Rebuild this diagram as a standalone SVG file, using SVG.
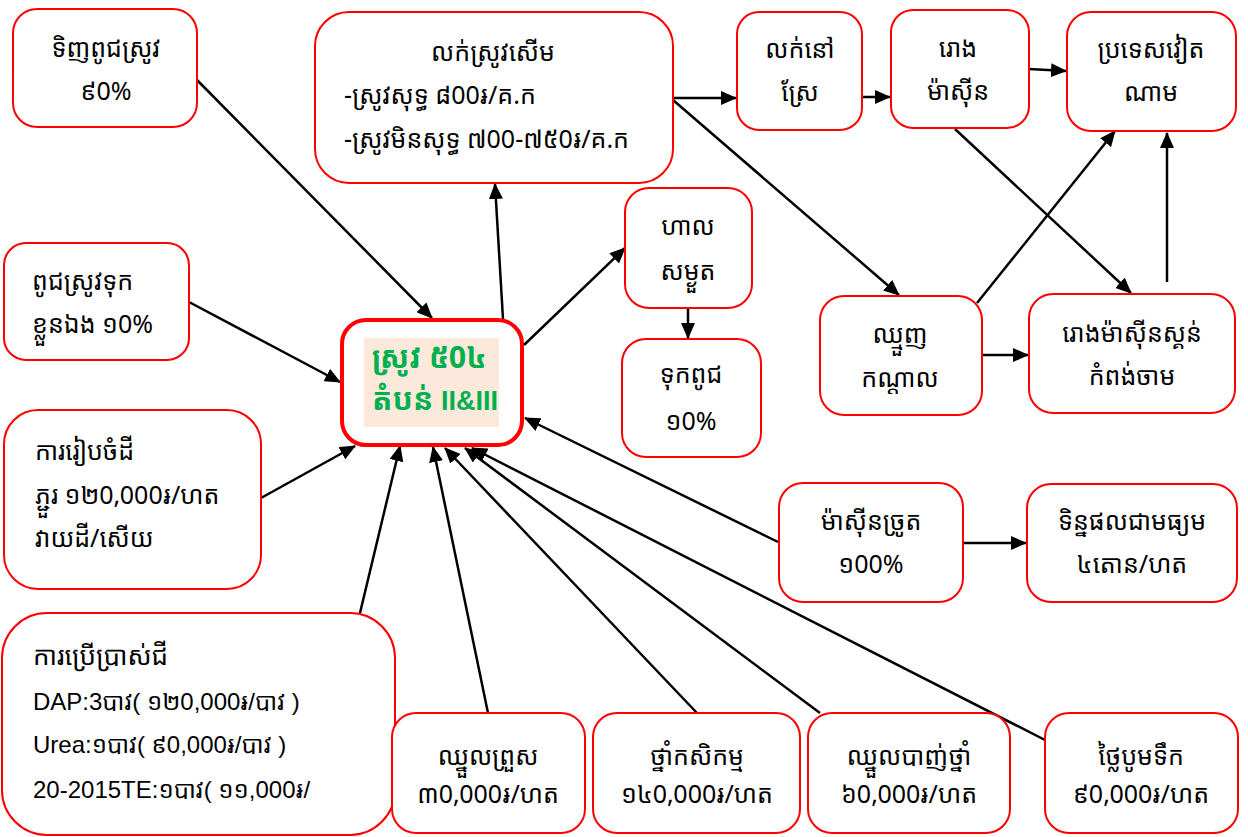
<svg xmlns="http://www.w3.org/2000/svg" width="1248" height="837" viewBox="0 0 1248 837">
<style>
.box{fill:#fff;stroke:#ff0000;stroke-width:2}
.t{font-family:"Khmer OS System","Khmer OS","Noto Sans Khmer","Noto Serif Khmer","Hanuman","Battambang","Liberation Sans",sans-serif;font-size:25px;fill:#000}
.c{text-anchor:middle}
.lat{font-family:"Liberation Sans","Khmer OS System","Noto Sans Khmer",sans-serif;font-size:24px;fill:#000}
.ln{stroke:#000;stroke-width:2.5;fill:none;marker-end:url(#ah)}
.main{font-family:"Khmer OS System","Khmer OS","Noto Sans Khmer","Liberation Sans",sans-serif;font-size:30px;font-weight:bold;fill:#00b050}
.rom{font-family:"Liberation Sans",sans-serif;font-size:27px;font-weight:bold}
</style>
<defs>
<marker id="ah" markerUnits="userSpaceOnUse" markerWidth="16" markerHeight="14" refX="15" refY="7" orient="auto"><path d="M0,0 L16,7 L0,14 z" fill="#000"/></marker>
</defs>
<rect width="1248" height="837" fill="#fff"/>
<g id="connectors">
<line class="ln" x1="197" y1="80" x2="432" y2="318"/>
<line class="ln" x1="189" y1="302" x2="340" y2="382"/>
<line class="ln" x1="261" y1="498" x2="355" y2="446"/>
<line class="ln" x1="360" y1="613" x2="400" y2="446"/>
<line class="ln" x1="488" y1="713" x2="433" y2="447"/>
<line class="ln" x1="697" y1="713" x2="445" y2="448"/>
<line class="ln" x1="820" y1="713" x2="465" y2="448"/>
<line class="ln" x1="1045" y1="740" x2="472" y2="448"/>
<line class="ln" x1="778" y1="542" x2="525" y2="418"/>
<line class="ln" x1="503" y1="319" x2="495" y2="184"/>
<line class="ln" x1="524" y1="345" x2="625" y2="248"/>
<line class="ln" x1="688" y1="308" x2="688" y2="338"/>
<line class="ln" x1="673" y1="98" x2="736" y2="98"/>
<line class="ln" x1="862" y1="97" x2="890" y2="97"/>
<line class="ln" x1="1029" y1="69" x2="1066" y2="71"/>
<line class="ln" x1="673" y1="100" x2="899" y2="295"/>
<line class="ln" x1="955" y1="129" x2="1131" y2="293"/>
<line class="ln" x1="977" y1="303" x2="1115" y2="131"/>
<line class="ln" x1="1167" y1="282" x2="1167" y2="133"/>
<line class="ln" x1="982" y1="355" x2="1028" y2="355"/>
<line class="ln" x1="963" y1="543" x2="1026" y2="543"/>
</g>
<g id="n-buy-seed"><rect class="box" x="13" y="9" width="184" height="118" rx="24"/>
<text class="t c" x="106" y="57">ទិញពូជស្រូវ</text><text class="t c" x="106" y="100">៩0%</text></g>
<g id="n-sell-wet"><rect class="box" x="315" y="12" width="358" height="171" rx="34"/>
<text class="t c" x="493" y="61">លក់ស្រូវសើម</text>
<text class="t" x="344" y="104">-ស្រូវសុទ្ធ ៨00៛/គ.ក</text>
<text class="t" x="344" y="148">-ស្រូវមិនសុទ្ធ ៧00-៧៥0៛/គ.ក</text></g>
<g id="n-sell-field"><rect class="box" x="737" y="12" width="125" height="118" rx="22"/>
<text class="t c" x="800" y="58">លក់នៅ</text><text class="t c" x="800" y="101">ស្រែ</text></g>
<g id="n-mill"><rect class="box" x="891" y="10" width="138" height="118" rx="22"/>
<text class="t c" x="958" y="57">រោង</text><text class="t c" x="958" y="100">ម៉ាស៊ីន</text></g>
<g id="n-vietnam"><rect class="box" x="1067" y="12" width="169" height="119" rx="24"/>
<text class="t c" x="1151" y="58">ប្រទេសវៀត</text><text class="t c" x="1151" y="101">ណាម</text></g>
<g id="n-own-seed"><rect class="box" x="4" y="243" width="185" height="117" rx="22"/>
<text class="t" x="32" y="290">ពូជស្រូវទុក</text><text class="t" x="32" y="333">ខ្លួនឯង ១0%</text></g>
<g id="n-land"><rect class="box" x="4" y="410" width="257" height="179" rx="34"/>
<text class="t" x="35" y="460">ការរៀបចំដី</text><text class="t" x="35" y="504">ភ្ជួរ ១២0,000៛/ហត</text><text class="t" x="35" y="547">វាយដី/សើយ</text></g>
<g id="n-fert"><rect class="box" x="2" y="613" width="393" height="222" rx="45"/>
<text class="t" x="33" y="665" style="font-size:26px">ការប្រើប្រាស់ជី</text>
<text class="lat" x="33" y="710">DAP:3បាវ( ១២0,000៛/បាវ )</text>
<text class="lat" x="33" y="753">Urea:១បាវ( ៩0,000៛/បាវ )</text>
<text class="lat" x="33" y="798">20-2015TE:១បាវ( ១១,000៛/</text></g>
<g id="n-center"><rect x="342" y="320" width="180" height="125" rx="24" fill="#fff" stroke="#ff0000" stroke-width="4"/>
<rect x="364" y="338" width="135" height="89" fill="#fce9db"/>
<text class="main" x="372" y="368">ស្រូវ ៥0៤</text><text class="main" x="372" y="410">តំបន់ <tspan class="rom">II&amp;III</tspan></text></g>
<g id="n-dry"><rect class="box" x="625" y="188" width="127" height="120" rx="24"/>
<text class="t c" x="688" y="235">ហាល</text><text class="t c" x="688" y="280">សម្ងួត</text></g>
<g id="n-keep-seed"><rect class="box" x="622" y="339" width="139" height="118" rx="24"/>
<text class="t c" x="691" y="383">ទុកពូជ</text><text class="t c" x="691" y="430">១0%</text></g>
<g id="n-trader"><rect class="box" x="820" y="296" width="162" height="119" rx="24"/>
<text class="t c" x="900" y="343">ឈ្មួញ</text><text class="t c" x="900" y="387">កណ្ដាល</text></g>
<g id="n-skun"><rect class="box" x="1029" y="294" width="206" height="119" rx="24"/>
<text class="t c" x="1132" y="342">រោងម៉ាស៊ីនស្គន់</text><text class="t c" x="1132" y="385">កំពង់ចាម</text></g>
<g id="n-harvester"><rect class="box" x="779" y="483" width="184" height="119" rx="24"/>
<text class="t c" x="871" y="530">ម៉ាស៊ីនច្រូត</text><text class="t c" x="871" y="573">១00%</text></g>
<g id="n-yield"><rect class="box" x="1027" y="484" width="210" height="118" rx="24"/>
<text class="t c" x="1132" y="530">ទិន្នផលជាមធ្យម</text><text class="t c" x="1132" y="573">៤តោន/ហត</text></g>
<g id="n-sow"><rect class="box" x="392" y="713" width="193" height="120" rx="24"/>
<text class="t c" x="488" y="765">ឈ្នួលព្រួស</text><text class="t c" x="488" y="803">៣0,000៛/ហត</text></g>
<g id="n-chem"><rect class="box" x="593" y="713" width="207" height="120" rx="24"/>
<text class="t c" x="697" y="765">ថ្នាំកសិកម្ម</text><text class="t c" x="697" y="803">១៤0,000៛/ហត</text></g>
<g id="n-spray"><rect class="box" x="808" y="713" width="202" height="120" rx="24"/>
<text class="t c" x="909" y="765">ឈ្នួលបាញ់ថ្នាំ</text><text class="t c" x="909" y="803">៦0,000៛/ហត</text></g>
<g id="n-pump"><rect class="box" x="1045" y="713" width="193" height="120" rx="24"/>
<text class="t c" x="1141" y="765">ថ្លៃបូមទឹក</text><text class="t c" x="1141" y="803">៩0,000៛/ហត</text></g>
</svg>
